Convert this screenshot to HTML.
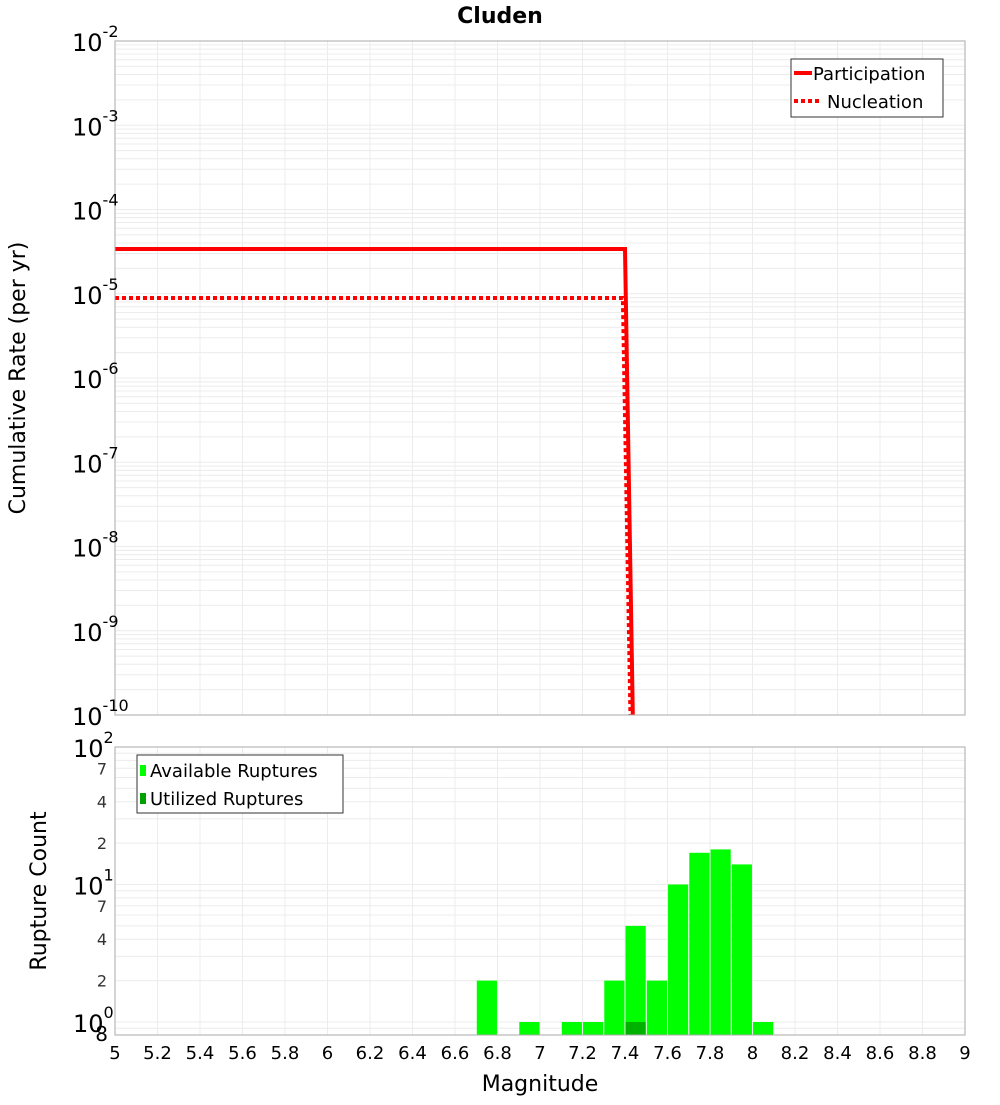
<!DOCTYPE html>
<html><head><meta charset="utf-8"><style>
body{margin:0;background:#fff;}
svg{font-family:"DejaVu Sans","Liberation Sans",sans-serif;}
</style></head><body>
<svg id="c" width="1000" height="1100" xmlns="http://www.w3.org/2000/svg"></svg>
<script>
const mags=[5,7.4,7.45];
const partRate=[3.4e-5,3.4e-5,1e-12];
const nuclMags=[5,7.39,7.44];
const nuclRate=[8.9e-6,8.9e-6,1e-12];
const binMags=[6.75,6.95,7.15,7.25,7.35,7.45,7.55,7.65,7.75,7.85,7.95,8.05];
const availCounts=[2,1,1,1,2,5,2,10,17,18,14,1];
const utilMags=[7.45];
const utilCounts=[1];
const xTicks=[5,5.2,5.4,5.6,5.8,6,6.2,6.4,6.6,6.8,7,7.2,7.4,7.6,7.8,8,8.2,8.4,8.6,8.8,9];
const topExps=[-2,-3,-4,-5,-6,-7,-8,-9,-10];
const botMinor=[7,4,2];

const NS='http://www.w3.org/2000/svg';
const svg=document.getElementById('c');
function mk(t,a,p){const e=document.createElementNS(NS,t);for(const k in a)e.setAttribute(k,a[k]);(p||svg).appendChild(e);return e;}
const L=115,R=965,T1=41,B1=715,T2=747,B2=1035;
const x=m=>L+(m-5)/4*(R-L);
const y1=v=>T1+(-2-Math.log10(v))*(B1-T1)/8;
const dec2=137.5;
const y2=v=>T2+(2-Math.log10(v))*dec2;

let t=mk('text',{x:500,y:23,'text-anchor':'middle','font-size':22,'font-weight':'bold'});t.textContent='Cluden';


const defs=mk('defs',{});
const c1=mk('clipPath',{id:'c1'},defs);mk('rect',{x:L,y:T1,width:R-L,height:B1-T1},c1);
const c2=mk('clipPath',{id:'c2'},defs);mk('rect',{x:L,y:T2,width:R-L,height:B2-T2},c2);

const g1=mk('g',{'clip-path':'url(#c1)'});

for(let e=-10;e<-2;e++)for(let k=1;k<10;k++){const yy=y1(k*Math.pow(10,e));mk('line',{x1:L,x2:R,y1:yy,y2:yy,stroke:'#ececec','stroke-width':1},g1);}
xTicks.forEach(m=>mk('line',{x1:x(m),x2:x(m),y1:T1,y2:B1,stroke:'#ececec'},g1));
const g2=mk('g',{'clip-path':'url(#c2)'});

for(let e=-1;e<2;e++)for(let k=1;k<10;k++){const yy=y2(k*Math.pow(10,e));mk('line',{x1:L,x2:R,y1:yy,y2:yy,stroke:'#ececec'},g2);}
xTicks.forEach(m=>mk('line',{x1:x(m),x2:x(m),y1:T2,y2:B2,stroke:'#ececec'},g2));

const pts=(ms,vs)=>ms.map((m,i)=>x(m)+','+y1(vs[i])).join(' ');
let pl=mk('polyline',{points:pts(nuclMags,nuclRate),fill:'none',stroke:'#ff0000','stroke-width':4,'stroke-dasharray':'4,3','clip-path':'url(#c1)'});

pl=mk('polyline',{points:pts(mags,partRate),fill:'none',stroke:'#ff0000','stroke-width':4,'clip-path':'url(#c1)'});


const bw=0.095*(R-L)/4;
const bg=mk('g',{'clip-path':'url(#c2)'});
binMags.forEach((m,i)=>{const r=mk('rect',{x:x(m)-bw/2,y:y2(availCounts[i]),width:bw,height:B2-y2(availCounts[i]),fill:'#00ff00'},bg);
});
utilMags.forEach((m,i)=>{const r=mk('rect',{x:x(m)-bw/2,y:y2(utilCounts[i]),width:bw,height:B2-y2(utilCounts[i]),fill:'#00b200'},bg);
});

mk('rect',{x:L,y:T1,width:R-L,height:B1-T1,fill:'none',stroke:'#aaa'});
mk('rect',{x:L,y:T2,width:R-L,height:B2-T2,fill:'none',stroke:'#aaa'});

topExps.forEach(e=>{const yy=y1(Math.pow(10,e));const tx=mk('text',{x:72,y:yy+10,'font-size':24});
tx.textContent='10';const s=mk('tspan',{dy:-14,'font-size':16},tx);s.textContent=String(e);
});
[2,1,0].forEach(e=>{const yy=y2(Math.pow(10,e));const tx=mk('text',{x:73,y:yy+10,'font-size':24});
tx.textContent='10';const s=mk('tspan',{dy:-14,'font-size':16},tx);s.textContent=String(e);

if(e>0)botMinor.forEach(k=>{const v=k*Math.pow(10,e-1);const m2=mk('text',{x:107,y:y2(v)+6,'text-anchor':'end','font-size':16,fill:'#333'});m2.textContent=String(k);
});});
let e8=mk('text',{x:108,y:1041,'text-anchor':'end','font-size':20});e8.textContent='8';


xTicks.forEach(m=>{const tx=mk('text',{x:x(m),y:1059,'text-anchor':'middle','font-size':18});tx.textContent=String(m);
});

t=mk('text',{x:540,y:1091,'text-anchor':'middle','font-size':22});t.textContent='Magnitude';

t=mk('text',{x:0,y:0,'text-anchor':'middle','font-size':22,transform:'translate(25,378) rotate(-90)'});t.textContent='Cumulative Rate (per yr)';

t=mk('text',{x:0,y:0,'text-anchor':'middle','font-size':22,transform:'translate(46,891) rotate(-90)'});t.textContent='Rupture Count';


let lg=mk('g',{});
mk('rect',{x:791,y:59,width:152,height:58,fill:'#fff',stroke:'#333'},lg);
mk('line',{x1:794,x2:812,y1:73,y2:73,stroke:'#f00','stroke-width':4},lg);
mk('line',{x1:794,x2:822,y1:101,y2:101,stroke:'#f00','stroke-width':4,'stroke-dasharray':'4,3'},lg);
t=mk('text',{x:813,y:80,'font-size':18},lg);t.textContent='Participation';
t=mk('text',{x:827,y:108,'font-size':18},lg);t.textContent='Nucleation';
lg=mk('g',{});
mk('rect',{x:137,y:755,width:206,height:58,fill:'#fff',stroke:'#333'},lg);
mk('rect',{x:140,y:765,width:6,height:11,fill:'#00ff00'},lg);
mk('rect',{x:140,y:793,width:6,height:11,fill:'#00a000'},lg);
t=mk('text',{x:150,y:777,'font-size':18},lg);t.textContent='Available Ruptures';
t=mk('text',{x:150,y:805,'font-size':18},lg);t.textContent='Utilized Ruptures';
</script>
</body></html>
